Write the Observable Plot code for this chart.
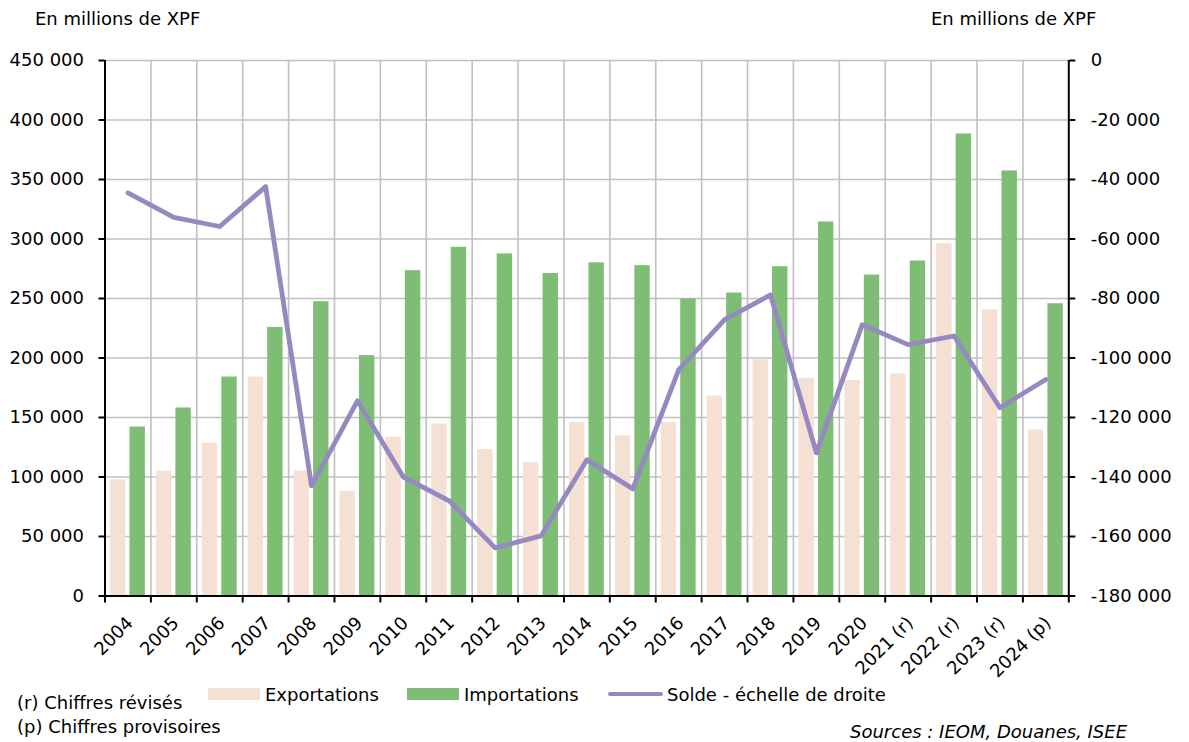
<!DOCTYPE html>
<html>
<head>
<meta charset="utf-8">
<script src="https://cdn.jsdelivr.net/npm/d3@7"></script>
<script src="https://cdn.jsdelivr.net/npm/@observablehq/plot@0.6"></script>
<style>
  html, body { margin: 0; padding: 0; background: #fff; }
  #wrap { position: relative; width: 1189px; height: 742px; overflow: hidden; font-family: "DejaVu Sans", Verdana, sans-serif; color: #000; }
  #wrap svg { position: absolute; left: 0; top: 0; }
  .lbl { position: absolute; font-size: 18px; line-height: 18px; white-space: nowrap; }
  .sw { position: absolute; }
</style>
</head>
<body>
<div id="wrap">
  <div class="lbl" style="left:35px; top:10px;">En millions de XPF</div>
  <div class="lbl" style="left:931px; top:10px;">En millions de XPF</div>
  <div class="lbl" style="left:17px; top:694px;">(r) Chiffres révisés</div>
  <div class="lbl" style="left:17px; top:718px;">(p) Chiffres provisoires</div>
  <div class="sw" style="left:208px; top:688px; width:52px; height:12px; background:#f4e1d4;"></div>
  <div class="lbl" style="left:265px; top:686px;">Exportations</div>
  <div class="sw" style="left:407px; top:688px; width:52px; height:12px; background:#7ebe74;"></div>
  <div class="lbl" style="left:464px; top:686px;">Importations</div>
  <div class="sw" style="left:608px; top:691.5px; width:55px; height:4.5px; border-radius:2.25px; background:#9689c2;"></div>
  <div class="lbl" style="left:667px; top:686px;">Solde - échelle de droite</div>
  <div class="lbl" style="left:850px; top:723px; font-style:italic;">Sources : IEOM, Douanes, ISEE</div>
</div>
<script>
// Catégories (années)
const years = ["2004","2005","2006","2007","2008","2009","2010","2011","2012","2013","2014",
               "2015","2016","2017","2018","2019","2020","2021 (r)","2022 (r)","2023 (r)","2024 (p)"];
// Exportations (millions de XPF)
const exportations = [97500,105000,128500,184000,105000,88000,133500,144500,123000,112000,146000,
                      134500,146000,168000,198500,183000,181000,186500,296000,240500,139500];
// Importations (millions de XPF)
const importations = [142000,158000,184000,225700,247300,202000,273400,293000,287500,271000,280000,
                      277600,249600,254600,276700,314300,269700,281500,388300,357200,245600];
// Solde (millions de XPF) - échelle de droite
const solde = [-44500,-52700,-55800,-42400,-143000,-114400,-140000,-148000,-163800,-159800,-134200,
               -144000,-104000,-87100,-78800,-131900,-88800,-95500,-92600,-116700,-107200];
// Graduations
const leftTicks = [0,50000,100000,150000,200000,250000,300000,350000,400000,450000];
const rightTicks = [0,-20000,-40000,-60000,-80000,-100000,-120000,-140000,-160000,-180000];

const LMAX = 450000, RMIN = -180000, RMAX = 0;
const toLeft = v => (v - RMIN) * LMAX / (RMAX - RMIN);
const toRight = v => RMIN + v * (RMAX - RMIN) / LMAX;

const fr = d3.formatLocale({decimal: ",", thousands: "\u00a0", grouping: [3], currency: ["", ""], minus: "-"});
const fmt = fr.format(",.0f");

const data = years.map((year, i) => ({year, i, exportations: exportations[i], importations: importations[i], solde: solde[i]}));
const n = years.length;

const chart = Plot.plot({
  width: 1189,
  height: 742,
  marginLeft: 104.5,
  marginRight: 120.7,
  marginTop: 60,
  marginBottom: 146.5,
  style: {fontFamily: "'DejaVu Sans', Verdana, sans-serif", fontSize: "18px", color: "#000", background: "transparent", overflow: "visible"},
  x: {domain: [0, n], axis: null},
  y: {domain: [0, LMAX], axis: null},
  marks: [
    Plot.gridY(leftTicks, {stroke: "#c0c0c0", strokeOpacity: 1, strokeWidth: 1.6}),
    Plot.gridX(d3.range(1, n), {stroke: "#c0c0c0", strokeOpacity: 1, strokeWidth: 1.6}),
    Plot.rectY(data, {x1: "i", x2: d => d.i + 1, y: "exportations", fill: "#f4e1d4", insetLeft: 5.5, insetRight: 25}),
    Plot.rectY(data, {x1: "i", x2: d => d.i + 1, y: "importations", fill: "#7ebe74", insetLeft: 25, insetRight: 5.5}),
    Plot.line(data, {x: d => d.i + 0.5, y: d => toLeft(d.solde), stroke: "#9689c2", strokeWidth: 4.8, strokeLinejoin: "round", strokeLinecap: "round"}),
    Plot.ruleX([0, n], {stroke: "#000", strokeWidth: 2}),
    Plot.ruleY([0], {stroke: "#000", strokeWidth: 2}),
    Plot.axisY(leftTicks, {anchor: "left", tickSize: 6, tickPadding: 15, tickFormat: fmt, strokeWidth: 2, label: null}),
    Plot.axisY(rightTicks.map(toLeft), {anchor: "right", tickSize: 6, tickPadding: 16, tickFormat: v => fmt(toRight(v)), strokeWidth: 2, label: null}),
    Plot.axisX(d3.range(0, n + 1), {tickSize: 7, tickFormat: () => "", strokeWidth: 2, label: null}),
    Plot.axisX(d3.range(0, n).map(i => i + 0.5), {tickSize: 0, tickRotate: -45, tickPadding: 24, dx: 2, tickFormat: v => years[Math.round(v - 0.5)], label: null})
  ]
});
document.getElementById("wrap").prepend(chart);
</script>
</body>
</html>
